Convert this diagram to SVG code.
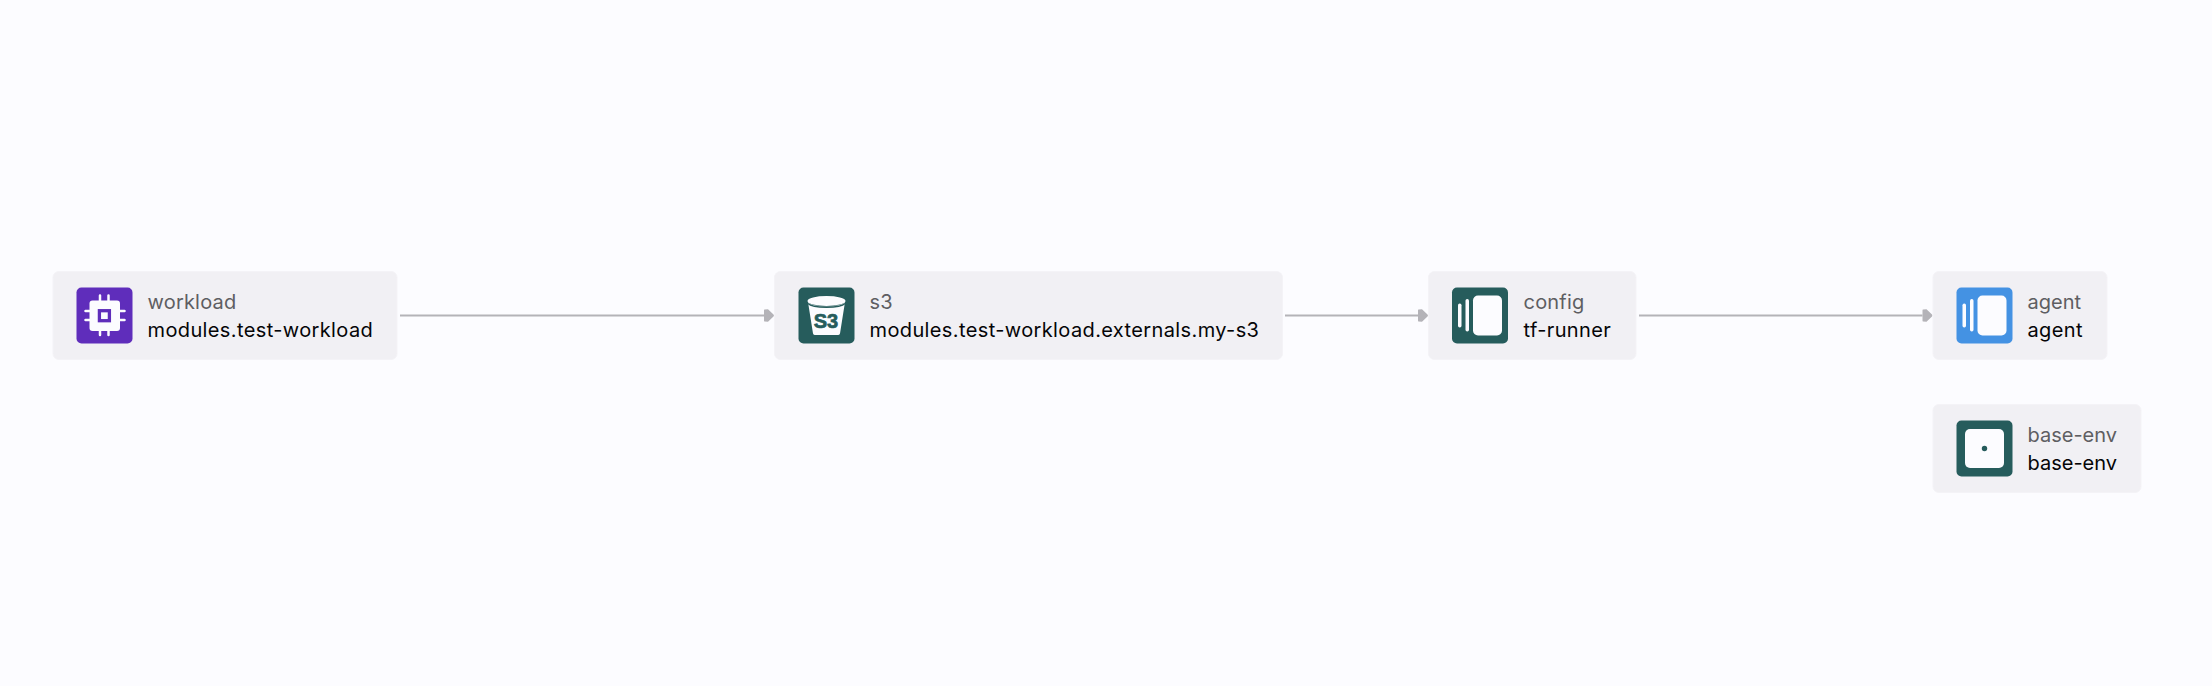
<svg xmlns="http://www.w3.org/2000/svg" width="2212" height="686" viewBox="0 0 2212 686">
<style>
.card{fill:#f1f0f4;stroke:#f4f3f7;stroke-width:1}
.kind{font-family:"Inter","Liberation Sans",sans-serif;font-size:20px;fill:#5e5e62;letter-spacing:.2px}
.name{font-family:"Inter","Liberation Sans",sans-serif;font-size:20px;fill:#050507;letter-spacing:.38px}
.tight{letter-spacing:0}
.edge{fill:none;stroke:#b4b3b8;stroke-width:1.800}
.white{fill:#fcfcff}
</style>
<defs>
<marker id="arrow" markerUnits="userSpaceOnUse" markerWidth="12" markerHeight="14" refX="1" refY="7" orient="auto">
<path d="M1.5 1 L5 .8 L10.5 6 Q11.5 7 10.5 8 L5 13.200 L1.500 13 Q1 13 1 12 L1 2 Q1 1 1.500 1Z" fill="#b4b3b8"/>
</marker>
</defs>
<rect width="2212" height="686" fill="#fcfcff"/>
<g id="connectors">
<path class="edge" d="M400 315.500H764" marker-end="url(#arrow)"/>
<path class="edge" d="M1285 315.500H1418" marker-end="url(#arrow)"/>
<path class="edge" d="M1639 315.500H1922.500" marker-end="url(#arrow)"/>
</g>
<g id="node-workload">
<rect class="card" x="53" y="271.500" width="344" height="88" rx="6"/>
<rect x="76.500" y="287.500" width="56" height="56" rx="5" fill="#5f2dbb"/>
<rect class="white" x="89.500" y="300.500" width="30.500" height="30.500" rx="3"/>
<path d="M100 295.500v6M108.500 295.500v6M100 329.500v5.500M108.500 329.500v5.500M85.500 311h6M85.500 320h6M118.500 311h6M118.500 320h6" stroke="#fcfcff" stroke-width="2.500" stroke-linecap="round" fill="none"/>
<rect x="99.400" y="310.700" width="10" height="10" fill="none" stroke="#5f2dbb" stroke-width="3.300"/>
<text class="kind" x="147.500" y="309">workload</text>
<text class="name" x="147.500" y="337">modules.test-workload</text>
</g>
<g id="node-s3">
<rect class="card" x="774.500" y="271.500" width="508" height="88" rx="6"/>
<rect x="798.500" y="287.500" width="56" height="56" rx="5" fill="#265c5c"/>
<path class="white" d="M808 302C812 308 841 308 845 302L840 333.500Q839.500 335 838 335H815Q813.500 335 813 333.500Z"/>
<ellipse class="white" cx="826.500" cy="301" rx="19" ry="5"/>
<path d="M808 303.500C813 308.500 840 308.500 845 303.500" fill="none" stroke="#265c5c" stroke-width="1.500"/>
<text x="826" y="327.500" text-anchor="middle" font-family="Liberation Sans,sans-serif" font-weight="700" font-size="20" fill="#265c5c" stroke="#265c5c" stroke-width=".7">S3</text>
<text class="kind" x="869.500" y="309">s3</text>
<text class="name" x="869.500" y="337">modules.test-workload.externals.my-s3</text>
</g>
<g id="node-config">
<rect class="card" x="1428.500" y="271.500" width="207.500" height="88" rx="6"/>
<rect x="1452" y="287.500" width="56" height="56" rx="5" fill="#265c5c"/>
<rect class="white" x="1473" y="295.500" width="29" height="40" rx="5"/>
<rect class="white" x="1465.500" y="299" width="3.500" height="32.500" rx="1.700"/>
<rect class="white" x="1458" y="303.500" width="3.500" height="24" rx="1.700"/>
<text class="kind" x="1523.500" y="309">config</text>
<text class="name" x="1523.500" y="337">tf-runner</text>
</g>
<g id="node-agent">
<rect class="card" x="1933" y="271.500" width="174" height="88" rx="6"/>
<rect x="1956.500" y="287.500" width="56" height="56" rx="5" fill="#4492e3"/>
<rect class="white" x="1977.500" y="295.500" width="29" height="40" rx="5"/>
<rect class="white" x="1970" y="299" width="3.500" height="32.500" rx="1.700"/>
<rect class="white" x="1962.500" y="303.500" width="3.500" height="24" rx="1.700"/>
<text class="kind tight" x="2027.500" y="309">agent</text>
<text class="name" x="2027.500" y="337">agent</text>
</g>
<g id="node-base-env">
<rect class="card" x="1933" y="404.500" width="208" height="88" rx="6"/>
<rect x="1956.500" y="420.500" width="56" height="56" rx="5" fill="#265c5c"/>
<rect class="white" x="1965" y="429" width="39" height="39" rx="5"/>
<circle cx="1984.500" cy="448.500" r="2.700" fill="#265c5c"/>
<text class="kind tight" x="2027.500" y="442">base-env</text>
<text class="name tight" x="2027.500" y="470">base-env</text>
</g>
</svg>
